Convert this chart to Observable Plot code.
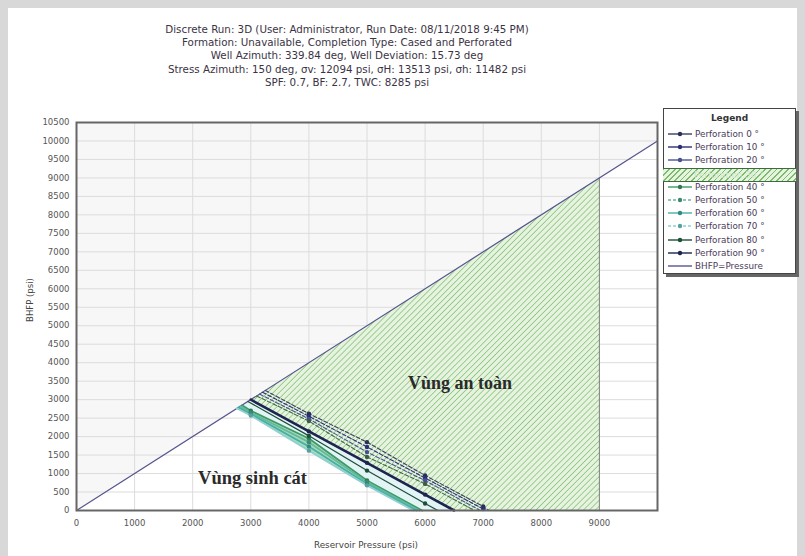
<!DOCTYPE html>
<html><head><meta charset="utf-8">
<script src="https://cdn.jsdelivr.net/npm/d3@7"></script>
<script src="https://cdn.jsdelivr.net/npm/@observablehq/plot@0.6"></script>
<style>
html,body{margin:0;padding:0;background:#d8d8d8;width:805px;height:556px;overflow:hidden;font-family:"DejaVu Sans",sans-serif;}
#panel{position:absolute;left:8px;top:8px;width:789px;height:548px;background:#fff;}
#title{position:absolute;left:0;width:694px;top:23px;text-align:center;font-size:10.3px;line-height:13.2px;color:#3b3344;}
#chart{position:absolute;left:0;top:100px;}
#ylabel{position:absolute;left:30px;top:300px;transform:translate(-50%,-50%) rotate(-90deg);font-size:8.5px;color:#444;white-space:nowrap;}
#xlabel{position:absolute;left:366px;top:540px;transform:translateX(-50%);font-size:8.8px;color:#444;white-space:nowrap;}
#legend{position:absolute;left:663px;top:108px;width:131px;height:164px;border:1px solid #444;box-shadow:3px 3px 0 #666;background:#fff;}
#legend .lt{position:absolute;left:0;width:100%;top:4px;text-align:center;font-size:9px;font-weight:bold;color:#333;}
#legend .row{position:absolute;left:0;width:100%;height:12px;font-size:8.8px;color:#4a3b5a;white-space:nowrap;}
#legend .row svg{position:absolute;left:4px;top:1px;}
#legend .row span{position:absolute;left:31px;top:0px;line-height:12px;}
#legend .sel{background:repeating-linear-gradient(135deg,#7cbb6e 0 1.2px,#e6f4df 1.2px 4px);border-top:1px solid #3d6b3d;border-bottom:1px solid #3d6b3d;left:-1px;width:133px;}
</style></head><body>
<div id="panel"></div>
<div id="title"></div>
<div id="chart"></div>
<div id="ylabel">BHFP (psi)</div>
<div id="xlabel">Reservoir Pressure (psi)</div>
<div id="legend"></div>
<script>
// ---- Data ----
const titleLines = [
  "Discrete Run: 3D (User: Administrator, Run Date: 08/11/2018 9:45 PM)",
  "Formation: Unavailable, Completion Type: Cased and Perforated",
  "Well Azimuth: 339.84 deg, Well Deviation: 15.73 deg",
  "Stress Azimuth: 150 deg, σv: 12094 psi, σH: 13513 psi, σh: 11482 psi",
  "SPF: 0.7, BF: 2.7, TWC: 8285 psi"
];
const xTicks = [0,1000,2000,3000,4000,5000,6000,7000,8000,9000];
const yTicks = d3.range(0, 10501, 500);
const xMax = 10000, yMax = 10500;
const safeLimit = 9000;

const perfAngles = [0,10,20,30,40,50,60,70,80,90];
const perf0  = [[3250,3250],[4000,2620],[5000,1850],[6000,950],[7000,110],[7100,0]];
const perf10 = [[3200,3200],[4000,2550],[5000,1720],[6000,880],[7000,40],[7050,0]];
const perf20 = [[3150,3150],[4000,2480],[5000,1580],[6000,810],[6950,0]];
const perf30 = [[3100,3100],[4000,2420],[5000,1450],[6000,720],[6850,0]];
const perf40 = [[2850,2850],[3000,2700],[4000,1950],[5000,810],[5950,0]];
const perf50 = [[2820,2820],[3000,2650],[4000,1850],[5000,770],[5900,0]];
const perf60 = [[2790,2790],[3000,2610],[4000,1730],[5000,720],[5850,0]];
const perf70 = [[2760,2760],[3000,2570],[4000,1620],[5000,680],[5800,0]];
const perf80 = [[2950,2950],[4000,2020],[5000,1080],[6000,190],[6220,0]];
const perf90 = [[3000,3000],[4000,2140],[5000,1290],[6000,430],[6500,0]];
const perfSeries = [perf0,perf10,perf20,perf30,perf40,perf50,perf60,perf70,perf80,perf90];

const perfColors = ["#3a3f60","#2d2d7a","#4a5590","#3d6b4a","#3c9a68","#66b89a","#45b0a5","#8fd0cf","#1e4d3a","#1d2450"];
const markerColors = ["#2b2f55","#2d2d7a","#45508f","#3d5a4a","#2e7a52","#3e8a70","#2f8a82","#5aa0a0","#1e4d3a","#1d2450"];
const bhfpColor = "#55558e";

// ---- Title ----
document.getElementById("title").innerHTML = titleLines.map(t => `<div>${t}</div>`).join("");

// ---- Build polygons from series ----
const diag = [[0,0],[xMax,xMax]];
const grayAbove = [[0,0],[0,yMax],[xMax,yMax],[xMax,xMax]];
const safeZone = [...perf90, [safeLimit,0], [safeLimit,safeLimit]];
const cyanBand = [...perf90, ...perf40.slice().reverse()];
const greenBand = [...perf40, ...perf70.slice().reverse()];

const lineStyles = perfAngles.map((a,i) => {
  if (i <= 3) return {strokeWidth: 1.1, strokeDasharray: "4,2"};
  if (i === 9) return {strokeWidth: 2.6};
  if (i === 8) return {strokeWidth: 1.2};
  return {strokeWidth: 1.8};
});

const markers = [];
perfSeries.forEach((s,i) => s.slice(1, -1).forEach(p => markers.push({x:p[0], y:p[1], c:markerColors[i]})));

const marks = [
  Plot.line(grayAbove, {x: d=>d[0], y: d=>d[1], fill: "#f7f7f7", stroke: "none"}),
  Plot.gridX(xTicks, {stroke: "#dcdcdc", strokeOpacity: 1}),
  Plot.gridY(yTicks, {stroke: "#dcdcdc", strokeOpacity: 1}),
  Plot.line(safeZone, {x: d=>d[0], y: d=>d[1], fill: "url(#hatch)", stroke: "#777", strokeWidth: 0.9}),
  Plot.line(cyanBand, {x: d=>d[0], y: d=>d[1], fill: "#e2f4f4", stroke: "none"}),
  Plot.line(greenBand, {x: d=>d[0], y: d=>d[1], fill: "#a9dbbb", stroke: "none"}),
  Plot.line(diag, {x: d=>d[0], y: d=>d[1], stroke: bhfpColor, strokeWidth: 1.2}),
  ...perfSeries.map((s,i) => Plot.line(s, {x: d=>d[0], y: d=>d[1], stroke: perfColors[i], ...lineStyles[i]})),
  Plot.dot(markers, {x: "x", y: "y", fill: "c", r: 2.2, stroke: "none"}),
  Plot.text(["Vùng an toàn"], {x: 6600, y: 3440, text: d=>d, fontSize: 18, fontWeight: "bold", fontFamily: "Liberation Serif", fill: "#2a2a2a"}),
  Plot.text(["Vùng sinh cát"], {x: 3030, y: 870, text: d=>d, fontSize: 18.5, fontWeight: "bold", fontFamily: "Liberation Serif", fill: "#2a2a2a"}),
  Plot.axisX(xTicks, {tickSize: 0, tickPadding: 9, fontSize: 8.5, fill: "#555", label: null, tickFormat: d=>String(d)}),
  Plot.axisY(yTicks, {tickSize: 0, tickPadding: 7, fontSize: 8.5, fill: "#555", label: null, tickFormat: d=>String(d)}),
  Plot.frame({stroke: "#666", strokeWidth: 2})
];

const svg = Plot.plot({
  width: 805, height: 456,
  marginLeft: 76, marginRight: 148, marginTop: 22, marginBottom: 46,
  x: {domain: [0, xMax]},
  y: {domain: [0, yMax]},
  color: {type: "identity"},
  style: {fontFamily: "DejaVu Sans", background: "none"},
  marks
});

const defs = d3.select(svg).insert("defs", ":first-child");
const pat = defs.append("pattern").attr("id","hatch").attr("patternUnits","userSpaceOnUse")
  .attr("width",4.2).attr("height",4.2).attr("patternTransform","rotate(45)");
pat.append("rect").attr("width",4.2).attr("height",4.2).attr("fill","#e6f4df");
pat.append("line").attr("x1",0).attr("y1",0).attr("x2",0).attr("y2",4.2).attr("stroke","#78b86a").attr("stroke-width",1.3);

document.getElementById("chart").appendChild(svg);

// ---- Legend ----
const legend = d3.select("#legend");
legend.append("div").attr("class","lt").text("Legend");
const rowTop0 = 19, rowStep = 13.2;
perfAngles.forEach((a,i) => {
  const row = legend.append("div").attr("class", i===3 ? "row sel" : "row").style("top", (rowTop0 + i*rowStep) + "px");
  if (i !== 3) {
    const s = row.append("svg").attr("width",24).attr("height",10);
    s.append("line").attr("x1",0).attr("x2",24).attr("y1",5).attr("y2",5).attr("stroke",perfColors[i]).attr("stroke-width",1.4)
      .attr("stroke-dasharray", (i===5||i===7) ? "3,2" : null);
    s.append("circle").attr("cx",12).attr("cy",5).attr("r",2.2).attr("fill",markerColors[i]);
  }
  row.append("span").text(`Perforation ${a} °`).style("color", i===3 ? "#cfe6c8" : null);
});
const brow = legend.append("div").attr("class","row").style("top", (rowTop0 + 10*rowStep) + "px");
const bs = brow.append("svg").attr("width",24).attr("height",10);
bs.append("line").attr("x1",0).attr("x2",24).attr("y1",5).attr("y2",5).attr("stroke",bhfpColor).attr("stroke-width",1.4);
brow.append("span").text("BHFP=Pressure");
</script>
</body></html>
